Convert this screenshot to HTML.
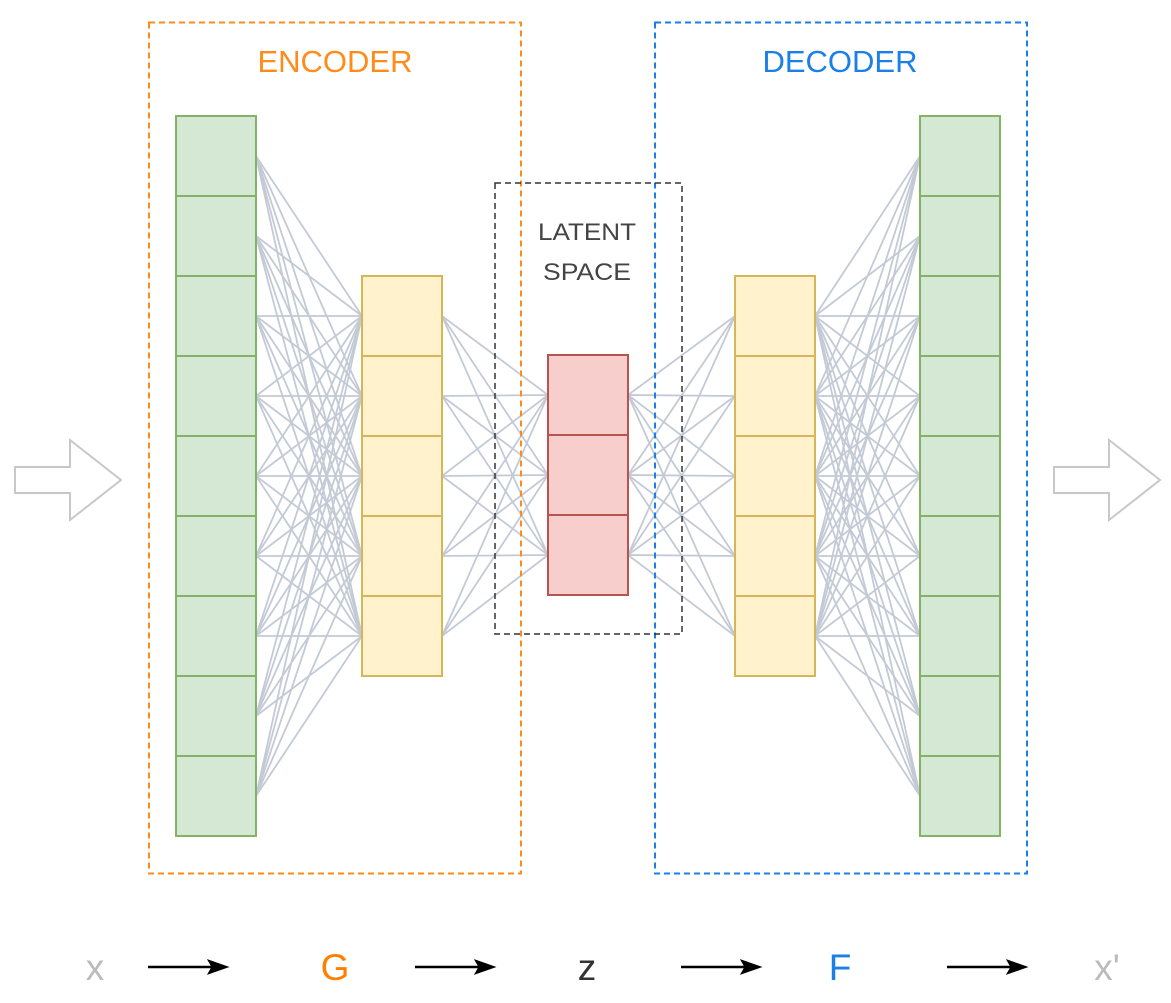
<!DOCTYPE html>
<html><head><meta charset="utf-8"><style>
html,body{margin:0;padding:0;background:#fff;}
svg{display:block;}
text{font-family:"Liberation Sans",sans-serif;}
</style></head><body>
<svg id="s" width="1171" height="1003" viewBox="0 0 1171 1003" xmlns="http://www.w3.org/2000/svg">
<g id="lines" stroke="#c3cad6" stroke-width="1.8"></g>
<rect x="149" y="22.5" width="372" height="851" fill="none" stroke="#ff8c1a" stroke-width="2" stroke-dasharray="6,4"/>
<rect x="655" y="22.5" width="372" height="851" fill="none" stroke="#1a7fe6" stroke-width="2" stroke-dasharray="6,4"/>
<rect x="495" y="183" width="187" height="451" fill="none" stroke="#333" stroke-width="1.5" stroke-dasharray="6,4"/>
<g id="cells"></g>
<text x="335" y="72" fill="#ff8c1a" font-size="31" text-anchor="middle">ENCODER</text>
<text x="840" y="72" fill="#1a7fe6" font-size="31" text-anchor="middle">DECODER</text>
<text x="587" y="240" fill="#444" font-size="24" text-anchor="middle" textLength="98" lengthAdjust="spacingAndGlyphs">LATENT</text>
<text x="587" y="280" fill="#444" font-size="24" text-anchor="middle" textLength="88" lengthAdjust="spacingAndGlyphs">SPACE</text>
<path d="M15,467 H70 V440 L121,480 L70,520 V493 H15 Z" fill="#fff" stroke="#c8c8c8" stroke-width="2"/>
<path d="M1054,467 H1109 V440 L1160,480 L1109,520 V493 H1054 Z" fill="#fff" stroke="#c8c8c8" stroke-width="2"/>
<g font-size="37" text-anchor="middle">
<text x="95" y="980" fill="#bbb">x</text>
<text x="335" y="980" fill="#ff8000">G</text>
<text x="587" y="980" fill="#333">z</text>
<text x="840" y="980" fill="#1a7fe6">F</text>
<text x="1107" y="980" fill="#bbb">x'</text>
</g>
<g id="arr" stroke="#000" stroke-width="2.5"></g>
</svg>
<script>
var NS="http://www.w3.org/2000/svg";
function el(p,t,a){var e=document.createElementNS(NS,t);for(var k in a)e.setAttribute(k,a[k]);document.getElementById(p).appendChild(e);return e;}
function cy(top,i){return top+40+80*i;}
var G=[],Y=[],R=[];
for(var i=0;i<9;i++)G.push(cy(116,i));
for(var i=0;i<5;i++)Y.push(cy(276,i));
for(var i=0;i<3;i++)R.push(cy(355,i));
function conn(x1,a,x2,b){a.forEach(function(y1){b.forEach(function(y2){el("lines","line",{x1:x1,y1:y1,x2:x2,y2:y2});});});}
conn(256,G,362,Y);conn(442,Y,548,R);conn(628,R,735,Y);conn(815,Y,920,G);
function col(x,top,n,fill,stroke){for(var i=0;i<n;i++)el("cells","rect",{x:x,y:top+80*i,width:80,height:80,fill:fill,stroke:stroke,"stroke-width":2});}
col(176,116,9,"#d5e8d4","#82b366");
col(362,276,5,"#fff2cc","#d6b656");
col(548,355,3,"#f8cecc","#b85450");
col(735,276,5,"#fff2cc","#d6b656");
col(920,116,9,"#d5e8d4","#82b366");
[148,415,681,947].forEach(function(x){
el("arr","line",{x1:x,y1:967,x2:x+68,y2:967});
el("arr","path",{d:"M"+(x+60)+",960 L"+(x+80)+",967 L"+(x+60)+",974 L"+(x+64)+",967 Z",fill:"#000","stroke-width":1});
});
</script>
</body></html>
